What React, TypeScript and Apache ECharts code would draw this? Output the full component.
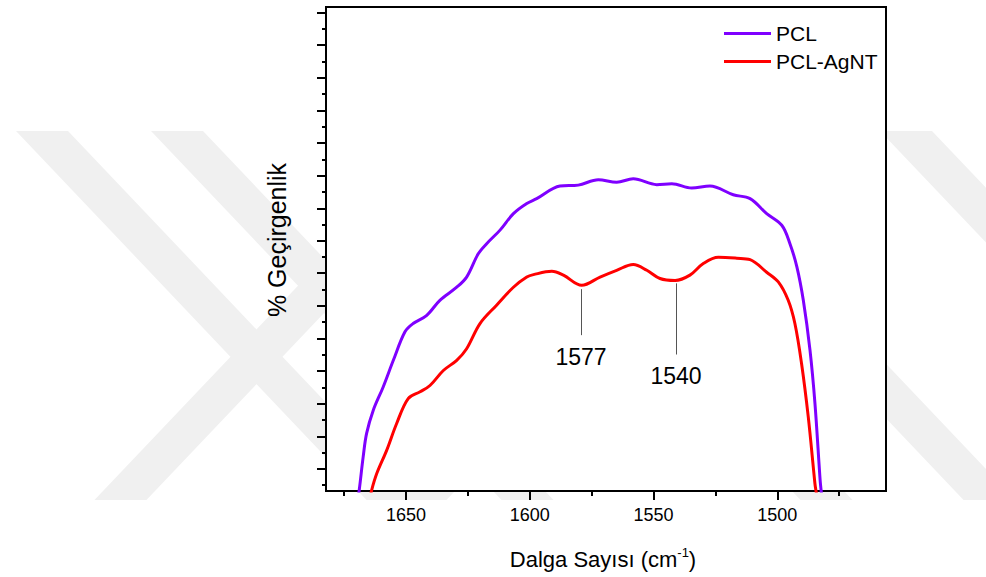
import React, { useEffect, useRef } from 'react';
import * as echarts from 'echarts';

const FONT = '"Liberation Sans", Arial, sans-serif';

// axis ranges / ticks (x axis is reversed: wavenumber decreases to the right)
const X_MIN = 1456.1;
const X_MAX = 1682.3;
const Y_MIN = 0;
const Y_MAX = 100;
const xMajorTicks = [1650, 1600, 1550, 1500];
const xMinorTicks = [1675, 1625, 1575, 1525, 1475];
const yMajorTicks = [4.6, 11.3, 18.1, 24.8, 31.5, 38.3, 45.0, 51.7, 58.4, 65.2, 71.9, 78.6, 85.4, 92.1, 98.8];
const yMinorTicks = [1.2, 8.0, 14.7, 21.4, 28.2, 34.9, 41.6, 48.4, 55.1, 61.8, 68.5, 75.3, 82.0, 88.7, 95.5];

const seriesNames = ['PCL', 'PCL-AgNT'];
const seriesColors = ['#7f00ff', '#ff0000'];

// [wavenumber, % transmittance (arbitrary scale)]
const pclData = [
  [1669.6, -2], [1668.9, 0.1], [1667.3, 7.0], [1665.9, 11.9], [1663.2, 16.7], [1659.2, 21.5],
  [1655.1, 27.0], [1650.4, 32.9], [1647.1, 34.6], [1641.6, 36.3], [1636.3, 39.4], [1629.5, 42.1],
  [1625.5, 44.2], [1620.8, 49.0], [1617.4, 51.1], [1612.0, 53.9], [1606.6, 57.3], [1601.2, 59.4],
  [1597.2, 60.4], [1587.8, 63.0], [1580.4, 63.2], [1572.3, 64.3], [1564.9, 63.8], [1558.2, 64.5],
  [1548.7, 63.3], [1542.6, 63.5], [1534.6, 62.6], [1527.2, 63.0], [1517.8, 61.2], [1511.0, 60.4],
  [1504.3, 57.3], [1498.2, 54.9], [1494.9, 51.1], [1492.1, 46.3], [1489.5, 39.4], [1486.8, 29.1],
  [1484.8, 18.1], [1482.7, 2.2], [1482.3, 0.1], [1481.9, -2],
];
const agntData = [
  [1664.7, -2], [1663.9, 0.1], [1661.8, 3.6], [1657.8, 8.4], [1653.8, 13.9], [1649.1, 19.1],
  [1644.3, 20.5], [1640.3, 21.8], [1634.9, 24.9], [1629.5, 27.0], [1625.5, 29.4], [1620.1, 34.6],
  [1613.4, 38.4], [1606.6, 42.1], [1601.2, 44.2], [1598.5, 44.7], [1591.1, 45.4], [1586.4, 44.6],
  [1579.0, 42.5], [1571.6, 44.2], [1564.9, 45.6], [1558.2, 46.8], [1552.7, 45.6], [1547.4, 43.9],
  [1541.3, 43.5], [1535.3, 44.6], [1529.9, 47.0], [1523.8, 48.3], [1516.4, 48.1], [1511.0, 47.8],
  [1504.3, 45.2], [1499.6, 43.2], [1495.6, 39.4], [1492.9, 34.6], [1490.2, 26.3], [1487.5, 15.3],
  [1484.8, 1.5], [1484.4, 0.1], [1483.7, -2],
];

// peak annotations
const peakLabels = ['1577', '1540'];
const peakX = [1579.3, 1540.9];
const peakLineTop = [41.7, 42.9];
const peakLineBottom = [32.2, 28.2];

// background watermark stripes (top-left x at y=131, direction)
const watermarkTops = [16, 151, 450, 613, 880, 445, 745];
const watermarkDirs = [1, 1, 1, 1, 1, -1, -1];

export default function App() {
  const ref = useRef<HTMLDivElement>(null);

  useEffect(() => {
    if (!ref.current) return;
    const chart = echarts.init(ref.current, undefined, { renderer: 'svg' });

    const wmW = 52;
    const wmTop = 131;
    const wmBottom = 500;
    const wmDx = 0.95 * (wmBottom - wmTop);
    const watermark = watermarkTops.map((t, i) => ({
      type: 'polygon',
      z: -10,
      silent: true,
      shape: {
        points: [
          [t, wmTop],
          [t + wmW, wmTop],
          [t + wmW + watermarkDirs[i] * wmDx, wmBottom],
          [t + watermarkDirs[i] * wmDx, wmBottom],
        ],
      },
      style: { fill: '#f0f0f0' },
    }));

    const tickLine = { color: '#000', width: 2 };

    const option: any = {
      animation: false,
      backgroundColor: '#ffffff',
      textStyle: { fontFamily: FONT },
      grid: {
        left: 326, top: 7, right: 100, bottom: 86,
        show: true, backgroundColor: '#ffffff', borderColor: '#000', borderWidth: 2,
      },
      legend: {
        show: true,
        data: seriesNames,
        orient: 'vertical',
        left: 724,
        top: 23,
        padding: 0,
        itemWidth: 47,
        itemHeight: 3,
        itemGap: 7,
        icon: 'rect',
        selectedMode: false,
        textStyle: { fontSize: 21, color: '#000', fontFamily: FONT, lineHeight: 21 },
      },
      xAxis: [
        {
          type: 'value', min: X_MIN, max: X_MAX, inverse: true, position: 'bottom',
          axisLine: { show: true, onZero: false, lineStyle: tickLine },
          axisTick: { show: true, length: 9, customValues: xMajorTicks, lineStyle: tickLine },
          axisLabel: {
            show: true, customValues: xMajorTicks, margin: 15, fontSize: 18, color: '#000',
            fontFamily: FONT, formatter: (v: number) => String(v),
          },
          splitLine: { show: false },
        },
        {
          type: 'value', min: X_MIN, max: X_MAX, inverse: true, position: 'bottom',
          axisLine: { show: false, onZero: false },
          axisTick: { show: true, length: 5, customValues: xMinorTicks, lineStyle: tickLine },
          axisLabel: { show: false },
          splitLine: { show: false },
        },
      ],
      yAxis: [
        {
          type: 'value', min: Y_MIN, max: Y_MAX, position: 'left',
          axisLine: { show: true, onZero: false, lineStyle: tickLine },
          axisTick: { show: true, length: 9, customValues: yMajorTicks, lineStyle: tickLine },
          axisLabel: { show: false },
          splitLine: { show: false },
        },
        {
          type: 'value', min: Y_MIN, max: Y_MAX, position: 'left',
          axisLine: { show: false, onZero: false },
          axisTick: { show: true, length: 4, customValues: yMinorTicks, lineStyle: tickLine },
          axisLabel: { show: false },
          splitLine: { show: false },
        },
      ],
      graphic: [
        ...watermark,
        {
          type: 'text',
          x: 277,
          y: 240,
          rotation: Math.PI / 2,
          z: 10,
          style: {
            text: '% Geçirgenlik',
            fill: '#000',
            fontSize: 25,
            fontFamily: FONT,
            align: 'center',
            verticalAlign: 'middle',
            textAlign: 'center',
            textVerticalAlign: 'middle',
          },
        },
        {
          type: 'text',
          x: 603,
          y: 559,
          z: 10,
          style: {
            text: '{a|Dalga Sayısı (cm}{s|-1}{a|)}',
            fill: '#000',
            align: 'center',
            verticalAlign: 'middle',
            textAlign: 'center',
            textVerticalAlign: 'middle',
            rich: {
              a: { fontSize: 22, fontFamily: FONT, fill: '#000', lineHeight: 26 },
              s: { fontSize: 13, fontFamily: FONT, fill: '#000', verticalAlign: 'top', lineHeight: 14 },
            },
          },
        },
      ],
      series: [
        {
          name: seriesNames[0], type: 'line', data: pclData, xAxisIndex: 0, yAxisIndex: 0,
          showSymbol: false, smooth: 0.35, color: seriesColors[0],
          lineStyle: { color: seriesColors[0], width: 3 }, z: 3,
        },
        {
          name: seriesNames[1], type: 'line', data: agntData, xAxisIndex: 0, yAxisIndex: 0,
          showSymbol: false, smooth: 0.35, color: seriesColors[1],
          lineStyle: { color: seriesColors[1], width: 3 }, z: 3,
          markLine: {
            silent: true,
            symbol: ['none', 'none'],
            lineStyle: { color: '#555', width: 1, type: 'solid' },
            label: {
              show: true,
              position: 'end',
              distance: 10,
              fontSize: 23,
              color: '#000',
              fontFamily: FONT,
              formatter: (p: any) => p.name,
            },
            data: peakX.map((x, i) => [
              { name: peakLabels[i], coord: [x, peakLineTop[i]] },
              { coord: [x, peakLineBottom[i]] },
            ]),
          },
        },
      ],
    };

    chart.setOption(option);
    return () => chart.dispose();
  }, []);

  return (
    <div
      ref={ref}
      style={{ position: 'fixed', left: 0, top: 0, width: 986, height: 577, background: '#fff' }}
    />
  );
}
